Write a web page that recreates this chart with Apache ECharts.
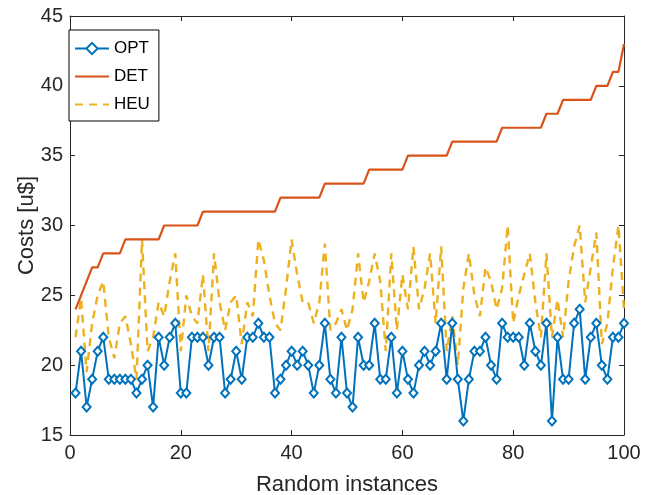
<!DOCTYPE html>
<html>
<head>
<meta charset="utf-8">
<script src="https://cdn.jsdelivr.net/npm/echarts@6/dist/echarts.min.js"></script>
<style>
  html, body { margin: 0; padding: 0; background: #ffffff; }
  #chart { width: 654px; height: 495px; }
</style>
</head>
<body>
<div id="chart"></div>
<script>
// Instance numbers (x values)
const instances = [1,2,3,4,5,6,7,8,9,10,11,12,13,14,15,16,17,18,19,20,
  21,22,23,24,25,26,27,28,29,30,31,32,33,34,35,36,37,38,39,40,
  41,42,43,44,45,46,47,48,49,50,51,52,53,54,55,56,57,58,59,60,
  61,62,63,64,65,66,67,68,69,70,71,72,73,74,75,76,77,78,79,80,
  81,82,83,84,85,86,87,88,89,90,91,92,93,94,95,96,97,98,99,100];

const optCosts = [18,21,17,19,21,22,19,19,19,19, 19,18,19,20,17,22,20,22,23,18,
  18,22,22,22,20,22,22,18,19,21, 19,22,22,23,22,22,18,19,20,21,
  20,21,20,18,20,23,19,18,22,18, 17,22,20,20,23,19,19,22,18,21,
  19,18,20,21,20,21,23,19,23,19, 16,19,21,21,22,20,19,23,22,22,
  22,20,23,21,20,23,16,22,19,19, 23,24,19,22,23,20,19,22,22,23];

const detCosts = [24,25,26,27,27,28,28,28,28,29, 29,29,29,29,29,29,30,30,30,30,
  30,30,30,31,31,31,31,31,31,31, 31,31,31,31,31,31,31,32,32,32,
  32,32,32,32,32,33,33,33,33,33, 33,33,33,34,34,34,34,34,34,34,
  35,35,35,35,35,35,35,35,36,36, 36,36,36,36,36,36,36,37,37,37,
  37,37,37,37,37,38,38,38,39,39, 39,39,39,39,40,40,40,41,41,43];

const heuCosts = [22,24.8,19.5,23,25,26,22,20.5,23,23.5, 21.5,19,29,21,22,24.5,23.5,26,28,21,
  25,23.5,23,26.5,21,28,24.5,22.5,24.5,25, 21.5,24.5,23.5,29,27.5,25,23,22.5,25.5,29,
  26.5,24.5,24.5,23,24.5,28.7,22.5,23,24,22.5, 24,28,24.5,26,28,26,21,28,22.5,26.5,
  24,28.5,24,25.5,28,23,28.5,21,23.5,20, 25.5,28,25,23.5,27,26,24,25.5,30,23,
  25,26.5,28,24.5,22,28,22,24.7,22,26, 28.5,30,24.5,27,29.5,21.5,23,27,30,24];

const xTicks = [0, 20, 40, 60, 80, 100];
const yTicks = [15, 20, 25, 30, 35, 40, 45];

const pair = (vals) => instances.map((x, i) => [x, vals[i]]);

const axisColor = '#262626';
const fontFam = '"Liberation Sans", Arial, Helvetica, sans-serif';

const chart = echarts.init(document.getElementById('chart'), null, { renderer: 'canvas' });
chart.setOption({
  backgroundColor: '#ffffff',
  animation: false,
  textStyle: { fontFamily: fontFam },
  grid: { left: 70, right: 30, top: 16, bottom: 60, show: false, containLabel: false, outerBoundsMode: 'none' },
  legend: {
    orient: 'vertical',
    left: 69, top: 30,
    backgroundColor: '#ffffff',
    borderColor: '#000000',
    borderWidth: 1,
    padding: [10, 9, 8, 5],
    itemGap: 11,
    itemWidth: 34,
    itemHeight: 14,
    textStyle: { fontSize: 17, color: '#000000', fontFamily: fontFam },
    data: [
      { name: 'OPT' },
      { name: 'DET', itemStyle: { opacity: 0 } },
      { name: 'HEU', itemStyle: { opacity: 0 } }
    ]
  },
  xAxis: [{
    type: 'value', min: xTicks[0], max: xTicks[xTicks.length - 1], interval: 20,
    position: 'bottom',
    name: 'Random instances', nameLocation: 'middle', nameGap: 39,
    nameMoveOverlap: false,
    nameTextStyle: { fontSize: 22, color: axisColor, fontFamily: fontFam },
    axisLine: { show: true, onZero: false, lineStyle: { color: axisColor, width: 1 } },
    axisTick: { show: true, inside: true, length: 5, lineStyle: { color: axisColor } },
    axisLabel: { show: true, fontSize: 20, color: axisColor, margin: 8, fontFamily: fontFam },
    splitLine: { show: false }
  }, {
    type: 'value', min: xTicks[0], max: xTicks[xTicks.length - 1], interval: 20,
    position: 'top',
    axisLine: { show: true, onZero: false, lineStyle: { color: axisColor, width: 1 } },
    axisTick: { show: true, inside: true, length: 5, lineStyle: { color: axisColor } },
    axisLabel: { show: false },
    splitLine: { show: false }
  }],
  yAxis: [{
    type: 'value', min: yTicks[0], max: yTicks[yTicks.length - 1], interval: 5,
    position: 'left',
    name: 'Costs [u$]', nameLocation: 'middle', nameGap: 32,
    nameMoveOverlap: false,
    nameTextStyle: { fontSize: 22, color: axisColor, fontFamily: fontFam },
    axisLine: { show: true, onZero: false, lineStyle: { color: axisColor, width: 1 } },
    axisTick: { show: true, inside: true, length: 5, lineStyle: { color: axisColor } },
    axisLabel: { show: true, fontSize: 20, color: axisColor, margin: 7, fontFamily: fontFam },
    splitLine: { show: false }
  }, {
    type: 'value', min: yTicks[0], max: yTicks[yTicks.length - 1], interval: 5,
    position: 'right',
    axisLine: { show: true, onZero: false, lineStyle: { color: axisColor, width: 1 } },
    axisTick: { show: true, inside: true, length: 5, lineStyle: { color: axisColor } },
    axisLabel: { show: false },
    splitLine: { show: false }
  }],
  series: [{
    name: 'OPT', type: 'line',
    data: pair(optCosts),
    symbol: 'emptyDiamond', symbolSize: [8, 9],
    showAllSymbol: true,
    lineStyle: { color: '#0072BD', width: 2 },
    itemStyle: { color: '#0072BD', borderColor: '#0072BD', borderWidth: 1.5 },
    z: 4
  }, {
    name: 'DET', type: 'line',
    data: pair(detCosts),
    symbol: 'none',
    lineStyle: { color: '#D95319', width: 2.2 },
    itemStyle: { color: '#D95319' },
    z: 3
  }, {
    name: 'HEU', type: 'line',
    data: pair(heuCosts),
    symbol: 'none',
    lineStyle: { color: '#EDB120', width: 2.4, type: [8, 6] },
    itemStyle: { color: '#EDB120' },
    z: 2
  }]
});
</script>
</body>
</html>
